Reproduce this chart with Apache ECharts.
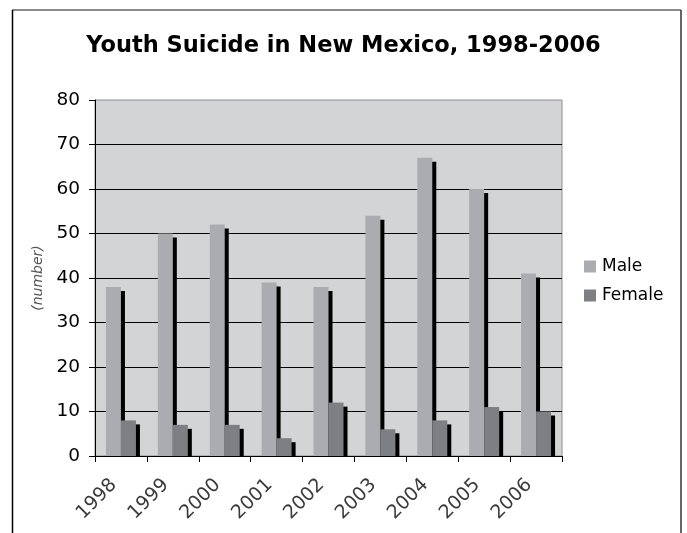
<!DOCTYPE html>
<html>
<head>
<meta charset="utf-8">
<script src="https://cdn.jsdelivr.net/npm/echarts@6/dist/echarts.min.js"></script>
<style>html,body{margin:0;padding:0;background:#fff}#chart{width:687px;height:533px}</style>
</head>
<body>
<div id="chart"></div>
<script>
const years = ['1998','1999','2000','2001','2002','2003','2004','2005','2006'];
const male = [38, 50, 52, 39, 38, 54, 67, 60, 41];
const female = [8, 7, 7, 4, 12, 6, 8, 11, 10];
const yTicks = {min: 0, max: 80, interval: 10};

const chart = echarts.init(document.getElementById('chart'), null, {renderer: 'canvas'});
const fontFam = '"DejaVu Sans", Verdana, sans-serif';
const BAR_W = 15, SH = 4;

function makeRender(offsetBars, color) {
  return function (params, api) {
    const xi = api.value(0), v = api.value(1);
    const base = api.coord([xi, 0]);
    const top = api.coord([xi, v]);
    const left = base[0] + offsetBars * BAR_W;
    const h = base[1] - top[1];
    return {
      type: 'group',
      children: [
        {type: 'rect', shape: {x: left + SH, y: top[1] + SH, width: BAR_W, height: Math.max(0, h - SH)}, style: {fill: '#000'}},
        {type: 'rect', shape: {x: left, y: top[1], width: BAR_W, height: h}, style: {fill: color}}
      ]
    };
  };
}

chart.setOption({
  animation: false,
  backgroundColor: '#fff',
  textStyle: {fontFamily: fontFam},
  title: {
    text: 'Youth Suicide in New Mexico, 1998-2006',
    left: 'center', top: 30,
    textStyle: {fontFamily: fontFam, fontSize: 22.5, fontWeight: 'bold', color: '#000'}
  },
  graphic: [
    {type: 'line', shape: {x1: 12, y1: 10, x2: 681, y2: 10}, style: {stroke: '#666', lineWidth: 1.5}},
    {type: 'line', shape: {x1: 12.5, y1: 10, x2: 12.5, y2: 533}, style: {stroke: '#000', lineWidth: 1.5}},
    {type: 'line', shape: {x1: 681, y1: 10, x2: 681, y2: 533}, style: {stroke: '#333', lineWidth: 1.5}}
  ],
  legend: {
    orient: 'vertical', left: 584, top: 258, padding: 0,
    itemWidth: 12, itemHeight: 12, itemGap: 12,
    icon: 'rect',
    textStyle: {fontFamily: fontFam, fontSize: 17, color: '#000', padding: [0, 0, 0, 1]},
    data: ['Male', 'Female']
  },
  grid: {
    left: 95, right: 125, top: 100, bottom: 77,
    show: true, backgroundColor: '#d3d4d6', borderColor: '#8e8e8e', borderWidth: 1
  },
  xAxis: {
    type: 'category', data: years,
    axisLine: {lineStyle: {color: '#000', width: 1}},
    axisTick: {show: true, length: 6, lineStyle: {color: '#000'}},
    axisLabel: {rotate: 45, margin: 19, fontSize: 19, color: '#3a3a3a', fontFamily: fontFam, padding: [0, 10, 0, 0]}
  },
  yAxis: {
    type: 'value', min: yTicks.min, max: yTicks.max, interval: yTicks.interval,
    name: '(number)', nameLocation: 'middle', nameGap: 37, nameRotate: 90,
    nameTextStyle: {fontStyle: 'italic', fontSize: 14, color: '#555', fontFamily: fontFam},
    axisLine: {show: true, lineStyle: {color: '#000'}},
    axisTick: {show: true, length: 6, lineStyle: {color: '#000'}},
    axisLabel: {fontSize: 18.5, color: '#000', margin: 15, fontFamily: fontFam},
    splitLine: {show: true, showMaxLine: false, lineStyle: {color: '#000', width: 1}}
  },
  series: [
    {name: 'Male', type: 'custom', renderItem: makeRender(-1, '#abacb0'),
     encode: {x: 0, y: 1}, itemStyle: {color: '#abacb0'},
     data: male.map((v, i) => [i, v])},
    {name: 'Female', type: 'custom', renderItem: makeRender(0, '#7e7f83'),
     encode: {x: 0, y: 1}, itemStyle: {color: '#7e7f83'},
     data: female.map((v, i) => [i, v])}
  ]
});
</script>
</body>
</html>
